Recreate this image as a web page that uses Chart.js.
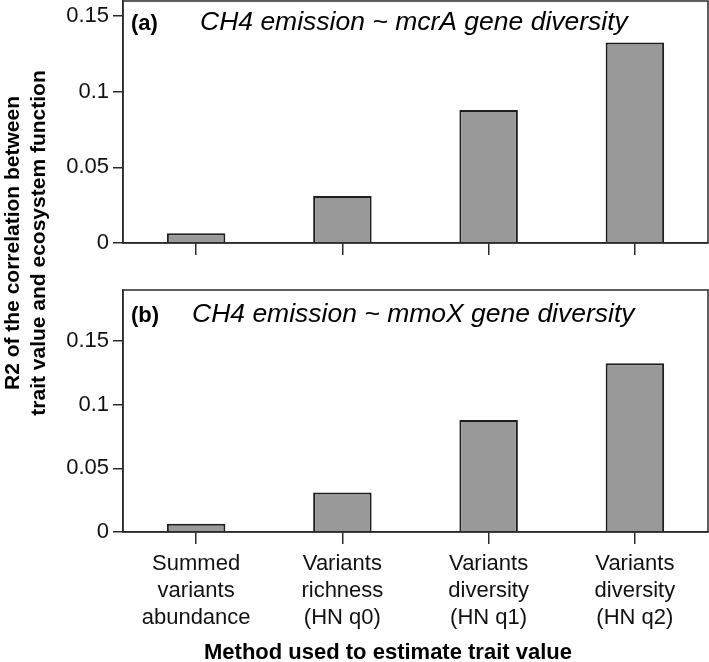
<!DOCTYPE html>
<html>
<head>
<meta charset="utf-8">
<script src="https://cdn.jsdelivr.net/npm/chart.js@4.4.1/dist/chart.umd.min.js"></script>
<style>
  body { margin: 0; background: #fff; width: 709px; height: 662px; position: relative; overflow: hidden;
         font-family: "Liberation Sans", Arial, sans-serif; }
  .panel { position: absolute; left: 0; }
  #ytitle { position: absolute; left: -185px; top: 217px; width: 420px; height: 52px;
            transform: rotate(-90deg); text-align: center; font-weight: bold; font-size: 21px;
            line-height: 26px; color: #000; }
  #xtitle { position: absolute; left: 388px; top: 641px; transform: translateX(-50%); white-space: nowrap;
            font-weight: bold; font-size: 22px; line-height: 22px; color: #000; }
</style>
</head>
<body>
<div class="panel" style="top:0"><canvas id="chartA" width="709" height="265"></canvas></div>
<div class="panel" style="top:280px"><canvas id="chartB" width="709" height="382"></canvas></div>
<div id="ytitle">R2 of the correlation between<br>trait value and ecosystem function</div>
<div id="xtitle">Method used to estimate trait value</div>
<script>
// categories (multi-line tick labels)
const methods = [
    ['Summed', 'variants', 'abundance'],
    ['Variants', 'richness', '(HN q0)'],
    ['Variants', 'diversity', '(HN q1)'],
    ['Variants', 'diversity', '(HN q2)']
];

// R2 values
const mcrA = [0.0065, 0.031, 0.088, 0.1325];
const mmoX = [0.0065, 0.031, 0.088, 0.1325];

const yTicks = [0, 0.05, 0.1, 0.15];

const FONT = '"Liberation Sans", Arial, sans-serif';
const INK = '#2a2a2a';

// frame around the plot area plus the panel heading inside it
const panelBox = {
    id: 'panelBox',
    afterDatasetsDraw(chart, args, opts) {
        const { ctx, chartArea: a } = chart;
        ctx.save();
        ctx.strokeStyle = INK;
        ctx.lineWidth = 1.5;
        ctx.strokeRect(a.left, a.top, a.right - a.left, a.bottom - a.top);
        ctx.fillStyle = '#000';
        ctx.textBaseline = 'alphabetic';
        ctx.font = 'bold 22px ' + FONT;
        ctx.fillText(opts.tag, a.left + 8, a.top + opts.dy);
        ctx.font = 'italic 26.5px ' + FONT;
        ctx.fillText(opts.text, a.left + opts.dx, a.top + opts.dy);
        ctx.restore();
    }
};

function makeChart(id, values, yMax, showLabels, xHeight, padTop, heading) {
    const ctx = document.getElementById(id).getContext('2d');
    return new Chart(ctx, {
        type: 'bar',
        data: {
            labels: methods,
            datasets: [{
                data: values,
                backgroundColor: '#999999',
                borderColor: '#1e1e1e',
                borderWidth: 2,
                barPercentage: 0.4,
                categoryPercentage: 1
            }]
        },
        options: {
            responsive: false,
            animation: false,
            layout: { padding: { top: padTop, right: 1, left: 0, bottom: 0 } },
            plugins: { legend: { display: false }, tooltip: { enabled: false }, panelBox: heading },
            scales: {
                x: {
                    offset: true,
                    grid: { display: true, offset: false, drawOnChartArea: false, tickLength: 12, color: INK, lineWidth: 1.5 },
                    border: { display: true, color: INK, width: 1.5 },
                    ticks: { display: showLabels, color: '#111', padding: 6, maxRotation: 0, autoSkip: false,
                             font: { family: FONT, size: 22, lineHeight: 1.23 } },
                    afterFit: s => { s.height = xHeight; s.paddingLeft = 0; s.paddingRight = 0; }
                },
                y: {
                    min: 0,
                    max: yMax,
                    afterBuildTicks: s => { s.ticks = yTicks.map(v => ({ value: v })); },
                    afterFit: s => { s.width = 123; s.paddingTop = 0; s.paddingBottom = 0; },
                    grid: { display: true, drawOnChartArea: false, tickLength: 10, color: INK, lineWidth: 1.5 },
                    border: { display: true, color: INK, width: 1.5 },
                    ticks: { color: '#111', padding: 4, font: { family: FONT, size: 22 }, callback: v => String(v) }
                }
            }
        },
        plugins: [panelBox]
    });
}

makeChart('chartA', mcrA, 0.16, false, 22, 1,
    { tag: '(a)', text: 'CH4 emission ~ mcrA gene diversity', dx: 77, dy: 29 });
makeChart('chartB', mmoX, 0.19, true, 130, 10,
    { tag: '(b)', text: 'CH4 emission ~ mmoX gene diversity', dx: 69, dy: 32 });
</script>
</body>
</html>
